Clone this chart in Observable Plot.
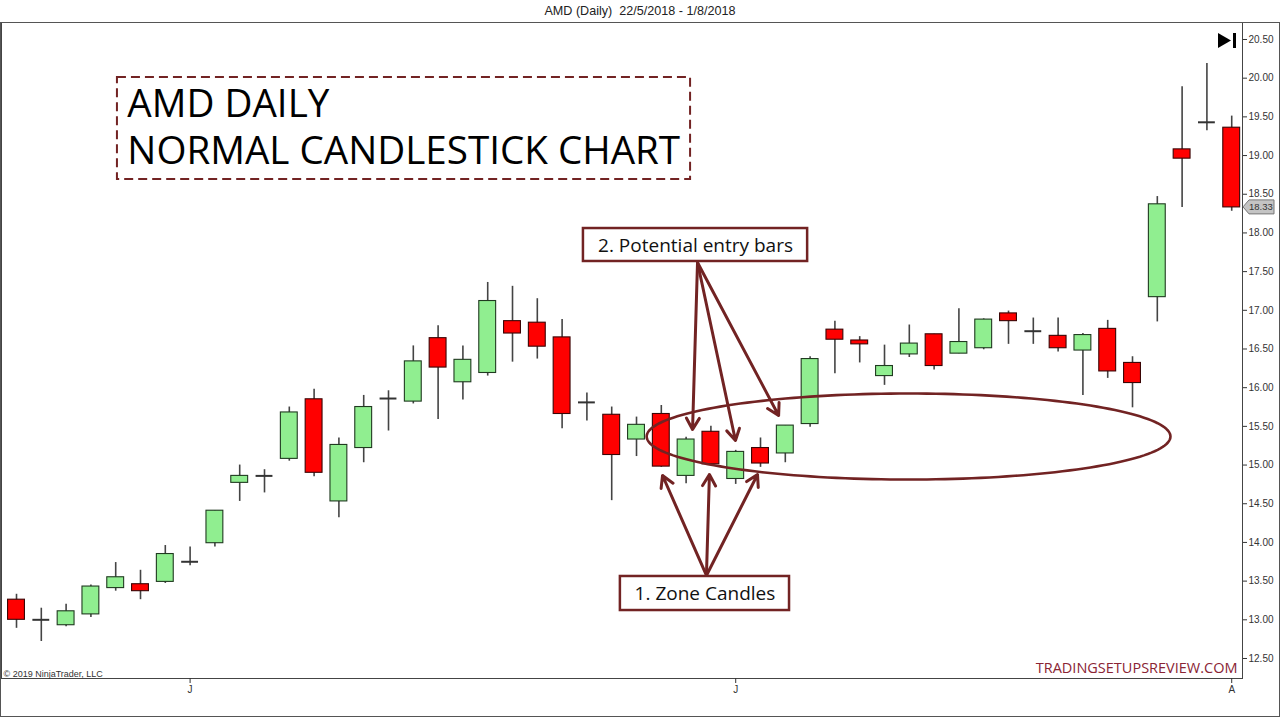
<!DOCTYPE html>
<html><head><meta charset="utf-8">
<script src="https://cdn.jsdelivr.net/npm/d3@7"></script>
<script src="https://cdn.jsdelivr.net/npm/@observablehq/plot@0.6"></script>
<style>
html,body{margin:0;padding:0;background:#fff;}
#wrap{position:relative;width:1280px;height:717px;overflow:hidden;background:#fff;}
#chart{position:absolute;left:0;top:0;}
#title{position:absolute;left:0;top:0;width:1280px;height:22px;line-height:22px;text-align:center;font-size:12.6px;font-family:"Liberation Sans Narrow","Liberation Sans",Arial,sans-serif;color:#222;white-space:pre;}
#border{position:absolute;left:0;top:22px;width:1280px;height:695px;box-sizing:border-box;border:1px solid #555;pointer-events:none;}
</style></head>
<body>
<div id="wrap"><div id="chart"></div><div id="title">AMD (Daily)  22/5/2018 - 1/8/2018</div><div id="border"></div></div>
<script>
// ---- data ----
const opens  = [13.26,13.00,12.93,13.07,13.41,13.46,13.49,13.75,13.99,14.77,14.86,15.08,15.85,14.53,15.22,15.86,15.82,16.64,16.07,16.19,16.86,16.84,16.65,15.81,15.65,15.33,15.66,14.86,15.43,14.82,15.22,15.15,15.53,16.75,16.61,16.15,16.43,16.69,16.44,16.51,16.96,16.73,16.67,16.48,16.76,16.32,17.17,19.08,19.43,19.36];
const highs  = [13.33,13.15,13.20,13.45,13.74,13.64,13.96,13.94,14.41,15.00,14.94,15.75,15.98,15.35,15.90,15.96,16.54,16.80,16.54,17.36,17.31,17.15,16.88,15.93,15.75,15.62,15.77,15.36,15.50,15.19,15.35,15.51,16.40,16.86,16.66,16.55,16.81,16.69,17.02,16.89,16.99,16.90,16.90,16.70,16.87,16.40,18.47,19.89,20.19,19.51];
const lows   = [12.89,12.72,12.91,13.03,13.37,13.26,13.47,13.70,13.94,14.53,14.64,15.05,14.85,14.32,15.03,15.44,15.79,15.59,15.84,16.15,16.33,16.37,15.47,15.57,14.54,15.11,14.97,14.76,15.00,14.75,14.97,15.03,15.49,16.18,16.32,16.03,16.39,16.23,16.44,16.49,16.56,16.56,16.46,15.90,16.12,15.74,16.85,18.33,19.32,18.28];
const closes = [13.00,13.00,13.11,13.43,13.55,13.37,13.85,13.75,14.41,14.86,14.86,15.68,14.90,15.26,15.75,15.86,16.34,16.26,16.36,17.12,16.70,16.53,15.66,15.81,15.13,15.52,14.98,15.33,15.01,15.17,15.02,15.51,16.37,16.62,16.56,16.28,16.57,16.28,16.59,16.88,16.86,16.73,16.51,16.68,16.21,16.06,18.37,18.96,19.43,18.33];
const yTicks = [12.5,13,13.5,14,14.5,15,15.5,16,16.5,17,17.5,18,18.5,19,19.5,20,20.5];
const xTickIndex  = [7, 29, 49];
const xTickLabels = ["J", "J", "A"];
const lastClose = 18.33;

// annotations (in bar-index / price units)
const titleLines = ["AMD DAILY", "NORMAL CANDLESTICK CHART"];
const titleLineY = [19.66, 19.052];
const titleBox = {x1: 4.07, x2: 27.18, y1: 18.691, y2: 20.009};
const noteBoxes = [
  {label: "2. Potential entry bars", x1: 22.86, x2: 31.9, y1: 17.631, y2: 18.057, x: 27.38, y: 17.838},
  {label: "1. Zone Candles", x1: 24.35, x2: 31.17, y1: 13.12, y2: 13.56, x: 27.76, y: 13.34}
];
const arrowLines = [
  {x1: 27.46, y1: 17.618, x2: 27.26, y2: 15.46},
  {x1: 27.46, y1: 17.618, x2: 28.99, y2: 15.317},
  {x1: 27.46, y1: 17.618, x2: 30.73, y2: 15.641},
  {x1: 27.82, y1: 13.573, x2: 26.05, y2: 14.865},
  {x1: 27.82, y1: 13.573, x2: 27.94, y2: 14.878},
  {x1: 27.82, y1: 13.573, x2: 29.88, y2: 14.878}
];
const zoneEllipse = {cx: 35.97, cy: 15.369, rx: 10.56, ry: 0.556};

// ---- build ----
const candles = opens.map((o, i) => ({i, open: o, high: highs[i], low: lows[i], close: closes[i]}));
const bodies = candles.filter(d => d.open !== d.close);
const dojis = candles.filter(d => d.open === d.close);
const ellipsePts = d3.range(0, 361, 2).map(a => {
  const t = a * Math.PI / 180;
  return {x: zoneEllipse.cx + zoneEllipse.rx * Math.cos(t), y: zoneEllipse.cy + zoneEllipse.ry * Math.sin(t)};
});
const W = 0.34;
const dark = "#722323";

const chart = Plot.plot({
  width: 1280, height: 717,
  marginTop: 22, marginBottom: 39, marginLeft: 1, marginRight: 38,
  style: {fontFamily: "'Liberation Sans', Arial, sans-serif", fontSize: "10px", color: "#333", background: "transparent"},
  x: {type: "linear", domain: [-0.605, 49.435]},
  y: {type: "linear", domain: [12.2415, 20.7197]},
  marks: [
    Plot.frame({stroke: "#444"}),
    Plot.axisY({anchor: "right", ticks: yTicks, tickFormat: d => d.toFixed(2), tickSize: 4, tickPadding: 2, label: null, fontSize: 10, stroke: "#333"}),
    Plot.axisX({anchor: "bottom", ticks: xTickIndex, tickFormat: d => xTickLabels[xTickIndex.indexOf(d)], tickSize: 5, tickPadding: 2, label: null, fontSize: 10}),
    // wicks
    Plot.ruleX(candles, {x: "i", y1: "low", y2: "high", stroke: "#444", strokeWidth: 1.6}),
    // bodies
    Plot.rect(bodies, {
      x1: d => d.i - W, x2: d => d.i + W, y1: "open", y2: "close",
      fill: d => d.close > d.open ? "#90ee90" : "#ff0000",
      stroke: d => d.close > d.open ? "#203a20" : "#3a0505",
      strokeWidth: 1.1
    }),
    Plot.ruleY(dojis, {y: "open", x1: d => d.i - W, x2: d => d.i + W, stroke: "#333", strokeWidth: 2}),
    // zone ellipse
    Plot.line(ellipsePts, {x: "x", y: "y", stroke: dark, strokeWidth: 2.6}),
    // arrows
    Plot.arrow(arrowLines, {x1: "x1", y1: "y1", x2: "x2", y2: "y2", stroke: dark, strokeWidth: 3, headLength: 6.5, headAngle: 60}),
    // title box
    Plot.rect([titleBox], {x1: "x1", x2: "x2", y1: "y1", y2: "y2", fill: "none", stroke: dark, strokeWidth: 2, strokeDasharray: "9,5"}),
    Plot.text(titleLines, {x: titleBox.x1 + 0.4, y: (d, i) => titleLineY[i], text: d => d, textAnchor: "start", lineAnchor: "middle", fontSize: 38.6, fontFamily: "'Open Sans', sans-serif", fill: "#000"}),
    // note boxes
    Plot.rect(noteBoxes, {x1: "x1", x2: "x2", y1: "y1", y2: "y2", fill: "#fff", stroke: dark, strokeWidth: 2.5}),
    Plot.text(noteBoxes, {x: "x", y: "y", text: "label", fontSize: 19, fontFamily: "'Open Sans', sans-serif", fill: "#111", lineAnchor: "middle"}),
    // footer texts
    Plot.text(["TRADINGSETUPSREVIEW.COM"], {frameAnchor: "bottom-right", dx: -5, dy: -6, fontSize: 14.5, fontFamily: "'Open Sans', sans-serif", fill: "#8a2434", lineAnchor: "bottom"}),
    Plot.text(["© 2019 NinjaTrader, LLC"], {frameAnchor: "bottom-left", dx: 2, dy: -2, fontSize: 9, fontFamily: "'Liberation Sans Narrow','Liberation Sans',sans-serif", fill: "#333", lineAnchor: "bottom"})
  ]
});
document.getElementById("chart").appendChild(chart);

// last-price marker on the price axis and the chart-end icon
const ys = chart.scale("y"), xs = chart.scale("x");
const xr = xs.range[1];
const yp = ys.apply(lastClose);
const svg = d3.select(chart);
const g = svg.append("g");
g.append("path")
  .attr("d", `M${xr + 1},${yp} L${xr + 7},${yp - 7} L${xr + 32},${yp - 7} L${xr + 32},${yp + 7} L${xr + 7},${yp + 7} Z`)
  .attr("fill", "#c4c4c4").attr("stroke", "#777").attr("stroke-width", 1);
g.append("text").attr("x", xr + 7).attr("y", yp + 3.5).attr("text-anchor", "start")
  .attr("font-size", 9.5).attr("fill", "#333").text(lastClose.toFixed(2));
const yt = ys.range[1];
g.append("path").attr("d", `M${xr - 24},${yt + 11} L${xr - 11},${yt + 18.5} L${xr - 24},${yt + 26} Z`).attr("fill", "#000");
g.append("rect").attr("x", xr - 9).attr("y", yt + 11).attr("width", 3).attr("height", 15).attr("fill", "#000");
</script>
</body></html>
